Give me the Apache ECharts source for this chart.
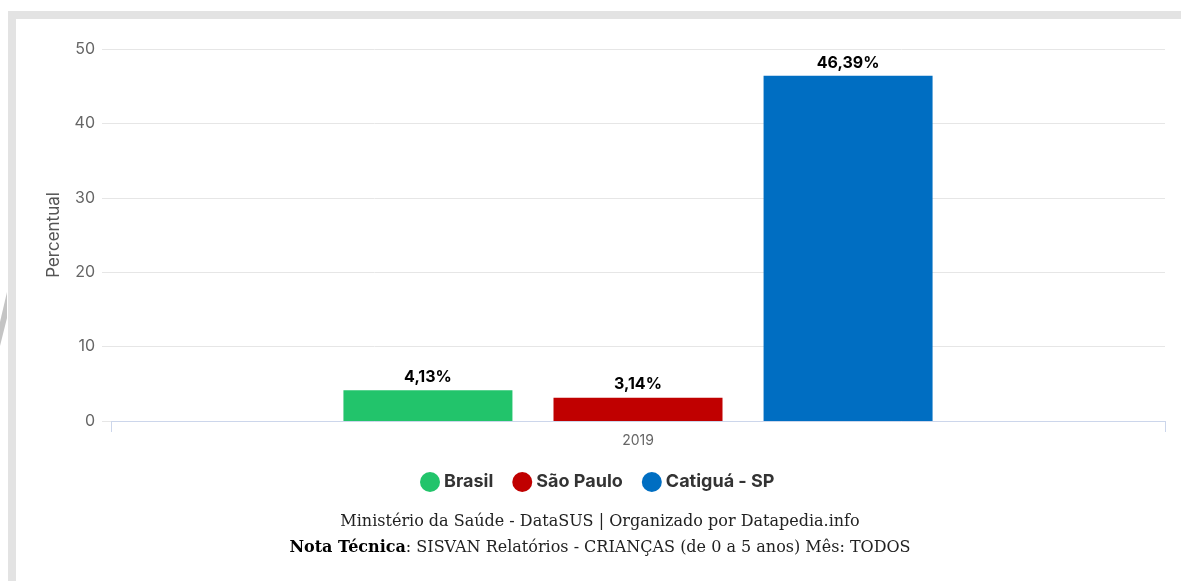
<!DOCTYPE html>
<html>
<head>
<meta charset="utf-8">
<script src="https://cdn.jsdelivr.net/npm/echarts@6/dist/echarts.min.js"></script>
<style>
  html, body { margin: 0; padding: 0; background: #fff; }
  #chart { width: 1181px; height: 581px; }
</style>
</head>
<body>
<div id="chart"></div>
<script>
// Prevalence by territory, 2019
const categories = ['2019'];
const seriesNames = ['Brasil', 'São Paulo', 'Catiguá - SP'];
const brasil = [4.13];
const saoPaulo = [3.14];
const catigua = [46.39];
const yTicks = [0, 10, 20, 30, 40, 50];
const sourceLine = 'Ministério da Saúde - DataSUS | Organizado por Datapedia.info';
const noteLabel = 'Nota Técnica';
const noteText = ': SISVAN Relatórios - CRIANÇAS (de 0 a 5 anos) Mês: TODOS';

const colors = ['#22c46b', '#c00000', '#006ec2'];
const values = [brasil, saoPaulo, catigua];

const sansFont = 'Inter, "Open Sans", sans-serif';
const serifFont = '"DejaVu Serif", "Liberation Serif", serif';

const chart = echarts.init(document.getElementById('chart'));

const series = seriesNames.map((name, i) => ({
  name,
  type: 'bar',
  data: values[i],
  barWidth: 169,
  barGap: '24.3%',
  itemStyle: { color: colors[i] },
  label: {
    show: true,
    position: 'top',
    distance: 5,
    color: '#000',
    fontFamily: sansFont,
    fontWeight: 'bold',
    fontSize: 16,
    formatter: p => p.value.toFixed(2).replace('.', ',') + '%'
  }
}));

chart.setOption({
  animation: false,
  backgroundColor: '#fff',
  grid: { left: 111, right: 16, top: 49, bottom: 160 },
  xAxis: {
    type: 'category',
    data: categories,
    axisLine: { lineStyle: { color: '#ccd6eb' } },
    axisTick: { show: true, length: 11, lineStyle: { color: '#ccd6eb' } },
    axisLabel: { color: '#666', fontSize: 14, fontFamily: sansFont, margin: 13 }
  },
  yAxis: {
    type: 'value',
    min: yTicks[0],
    max: yTicks[yTicks.length - 1],
    interval: 10,
    name: 'Percentual',
    nameLocation: 'middle',
    nameGap: 49,
    nameTextStyle: { color: '#555', fontSize: 17, fontFamily: sansFont },
    axisLine: { show: false },
    axisTick: { show: true, length: 9, lineStyle: { color: '#e6e6e6' } },
    axisLabel: { color: '#666', fontSize: 16, fontFamily: sansFont, margin: 16 },
    splitLine: { lineStyle: { color: '#e6e6e6' } }
  },
  legend: {
    data: seriesNames,
    left: 420,
    top: 472,
    padding: 0,
    icon: 'circle',
    itemWidth: 20,
    itemHeight: 20,
    itemGap: 19,
    textStyle: { color: '#333', fontSize: 18, fontWeight: 'bold', fontFamily: sansFont, padding: [0, 0, 0, -1] }
  },
  graphic: [
    { type: 'rect', shape: { x: 8, y: 11, width: 1173, height: 8 }, style: { fill: '#e3e3e3' }, silent: true },
    { type: 'rect', shape: { x: 8, y: 11, width: 8, height: 570 }, style: { fill: '#e3e3e3' }, silent: true },
    { type: 'polygon', shape: { points: [[7, 292], [7, 318], [0, 346], [0, 322]] }, style: { fill: '#c4c4c4' }, silent: true },
    {
      type: 'text', x: 600, y: 514,
      style: { text: sourceLine, fill: '#222', fontSize: 16, fontFamily: serifFont, align: 'center' }
    },
    {
      type: 'text', x: 600, y: 540,
      style: {
        text: '{b|' + noteLabel + '}' + noteText,
        fill: '#222', fontSize: 16, fontFamily: serifFont, align: 'center',
        rich: { b: { fontWeight: 'bold', fontSize: 16, fill: '#000', fontFamily: serifFont } }
      }
    }
  ],
  series
});
</script>
</body>
</html>
